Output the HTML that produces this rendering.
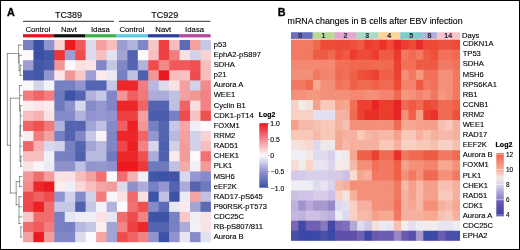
<!DOCTYPE html><html><head><meta charset="utf-8"><style>
html,body{margin:0;padding:0;background:#fff;}
body{width:520px;height:250px;overflow:hidden;position:relative;}
svg{position:absolute;left:0;top:0;will-change:transform;}
text{font-family:"Liberation Sans",sans-serif;fill:#000;stroke:#000;stroke-width:0.12px;}
</style></head><body>
<svg width="520" height="250" viewBox="0 0 520 250">
<rect x="0" y="0" width="520" height="250" fill="#fff"/>
<g>
<rect x="23.00" y="40.00" width="11.04" height="10.71" fill="#7780c2"/>
<rect x="33.44" y="40.00" width="11.04" height="10.71" fill="#3a50a5"/>
<rect x="43.88" y="40.00" width="11.04" height="10.71" fill="#9194ce"/>
<rect x="54.32" y="40.00" width="11.04" height="10.71" fill="#f8d2d3"/>
<rect x="64.76" y="40.00" width="11.04" height="10.71" fill="#ec1a1e"/>
<rect x="75.20" y="40.00" width="11.04" height="10.71" fill="#f0585a"/>
<rect x="85.64" y="40.00" width="11.04" height="10.71" fill="#dcdbee"/>
<rect x="96.08" y="40.00" width="11.04" height="10.71" fill="#f4a0a0"/>
<rect x="106.52" y="40.00" width="11.04" height="10.71" fill="#f7bebf"/>
<rect x="116.96" y="40.00" width="11.04" height="10.71" fill="#9c9ed3"/>
<rect x="127.40" y="40.00" width="11.04" height="10.71" fill="#b1b3dc"/>
<rect x="137.84" y="40.00" width="11.04" height="10.71" fill="#8086c6"/>
<rect x="148.28" y="40.00" width="11.04" height="10.71" fill="#f8c8c9"/>
<rect x="158.72" y="40.00" width="11.04" height="10.71" fill="#ee3f42"/>
<rect x="169.16" y="40.00" width="11.04" height="10.71" fill="#f7bebf"/>
<rect x="179.60" y="40.00" width="11.04" height="10.71" fill="#5d6bb5"/>
<rect x="190.04" y="40.00" width="11.04" height="10.71" fill="#f4a0a0"/>
<rect x="200.48" y="40.00" width="10.44" height="10.71" fill="#c6c7e5"/>
<rect x="23.00" y="50.11" width="11.04" height="10.71" fill="#fcfafc"/>
<rect x="33.44" y="50.11" width="11.04" height="10.71" fill="#3a50a5"/>
<rect x="43.88" y="50.11" width="11.04" height="10.71" fill="#4357a9"/>
<rect x="54.32" y="50.11" width="11.04" height="10.71" fill="#ed3336"/>
<rect x="64.76" y="50.11" width="11.04" height="10.71" fill="#9c9ed3"/>
<rect x="75.20" y="50.11" width="11.04" height="10.71" fill="#ef4c4e"/>
<rect x="85.64" y="50.11" width="11.04" height="10.71" fill="#dcdbee"/>
<rect x="96.08" y="50.11" width="11.04" height="10.71" fill="#f7bebf"/>
<rect x="106.52" y="50.11" width="11.04" height="10.71" fill="#e2e2f1"/>
<rect x="116.96" y="50.11" width="11.04" height="10.71" fill="#a2a4d5"/>
<rect x="127.40" y="50.11" width="11.04" height="10.71" fill="#5464b1"/>
<rect x="137.84" y="50.11" width="11.04" height="10.71" fill="#fcfafc"/>
<rect x="148.28" y="50.11" width="11.04" height="10.71" fill="#f7bebf"/>
<rect x="158.72" y="50.11" width="11.04" height="10.71" fill="#ee3f42"/>
<rect x="169.16" y="50.11" width="11.04" height="10.71" fill="#f27d7e"/>
<rect x="179.60" y="50.11" width="11.04" height="10.71" fill="#fae2e4"/>
<rect x="190.04" y="50.11" width="11.04" height="10.71" fill="#d1d1ea"/>
<rect x="200.48" y="50.11" width="10.44" height="10.71" fill="#f8d2d3"/>
<rect x="23.00" y="60.22" width="11.04" height="10.71" fill="#9c9ed3"/>
<rect x="33.44" y="60.22" width="11.04" height="10.71" fill="#4357a9"/>
<rect x="43.88" y="60.22" width="11.04" height="10.71" fill="#4b5ead"/>
<rect x="54.32" y="60.22" width="11.04" height="10.71" fill="#f39696"/>
<rect x="64.76" y="60.22" width="11.04" height="10.71" fill="#fcfafc"/>
<rect x="75.20" y="60.22" width="11.04" height="10.71" fill="#fae2e4"/>
<rect x="85.64" y="60.22" width="11.04" height="10.71" fill="#fae6e8"/>
<rect x="96.08" y="60.22" width="11.04" height="10.71" fill="#8086c6"/>
<rect x="106.52" y="60.22" width="11.04" height="10.71" fill="#c6c7e5"/>
<rect x="116.96" y="60.22" width="11.04" height="10.71" fill="#8086c6"/>
<rect x="127.40" y="60.22" width="11.04" height="10.71" fill="#5464b1"/>
<rect x="137.84" y="60.22" width="11.04" height="10.71" fill="#b1b3dc"/>
<rect x="148.28" y="60.22" width="11.04" height="10.71" fill="#ef4c4e"/>
<rect x="158.72" y="60.22" width="11.04" height="10.71" fill="#f28a8a"/>
<rect x="169.16" y="60.22" width="11.04" height="10.71" fill="#f0585a"/>
<rect x="179.60" y="60.22" width="11.04" height="10.71" fill="#f0585a"/>
<rect x="190.04" y="60.22" width="11.04" height="10.71" fill="#ef5153"/>
<rect x="200.48" y="60.22" width="10.44" height="10.71" fill="#f7bebf"/>
<rect x="23.00" y="70.33" width="11.04" height="10.71" fill="#4b5ead"/>
<rect x="33.44" y="70.33" width="11.04" height="10.71" fill="#4357a9"/>
<rect x="43.88" y="70.33" width="11.04" height="10.71" fill="#9194ce"/>
<rect x="54.32" y="70.33" width="11.04" height="10.71" fill="#fae6e8"/>
<rect x="64.76" y="70.33" width="11.04" height="10.71" fill="#f39696"/>
<rect x="75.20" y="70.33" width="11.04" height="10.71" fill="#f8c8c9"/>
<rect x="85.64" y="70.33" width="11.04" height="10.71" fill="#9c9ed3"/>
<rect x="96.08" y="70.33" width="11.04" height="10.71" fill="#fbeaec"/>
<rect x="106.52" y="70.33" width="11.04" height="10.71" fill="#ebeaf5"/>
<rect x="116.96" y="70.33" width="11.04" height="10.71" fill="#7780c2"/>
<rect x="127.40" y="70.33" width="11.04" height="10.71" fill="#c0c1e2"/>
<rect x="137.84" y="70.33" width="11.04" height="10.71" fill="#4f60af"/>
<rect x="148.28" y="70.33" width="11.04" height="10.71" fill="#f39696"/>
<rect x="158.72" y="70.33" width="11.04" height="10.71" fill="#ec1a1e"/>
<rect x="169.16" y="70.33" width="11.04" height="10.71" fill="#f7bebf"/>
<rect x="179.60" y="70.33" width="11.04" height="10.71" fill="#f7c2c3"/>
<rect x="190.04" y="70.33" width="11.04" height="10.71" fill="#ef4c4e"/>
<rect x="200.48" y="70.33" width="10.44" height="10.71" fill="#f7bebf"/>
<rect x="23.00" y="80.44" width="11.04" height="10.71" fill="#fcf6f8"/>
<rect x="33.44" y="80.44" width="11.04" height="10.71" fill="#d5d5eb"/>
<rect x="43.88" y="80.44" width="11.04" height="10.71" fill="#f3f2f8"/>
<rect x="54.32" y="80.44" width="11.04" height="10.71" fill="#7780c2"/>
<rect x="64.76" y="80.44" width="11.04" height="10.71" fill="#7780c2"/>
<rect x="75.20" y="80.44" width="11.04" height="10.71" fill="#9194ce"/>
<rect x="85.64" y="80.44" width="11.04" height="10.71" fill="#5464b1"/>
<rect x="96.08" y="80.44" width="11.04" height="10.71" fill="#5464b1"/>
<rect x="106.52" y="80.44" width="11.04" height="10.71" fill="#c6c7e5"/>
<rect x="116.96" y="80.44" width="11.04" height="10.71" fill="#ed262a"/>
<rect x="127.40" y="80.44" width="11.04" height="10.71" fill="#ed262a"/>
<rect x="137.84" y="80.44" width="11.04" height="10.71" fill="#f27d7e"/>
<rect x="148.28" y="80.44" width="11.04" height="10.71" fill="#b8b9df"/>
<rect x="158.72" y="80.44" width="11.04" height="10.71" fill="#dcdbee"/>
<rect x="169.16" y="80.44" width="11.04" height="10.71" fill="#fae2e4"/>
<rect x="179.60" y="80.44" width="11.04" height="10.71" fill="#f4a0a0"/>
<rect x="190.04" y="80.44" width="11.04" height="10.71" fill="#d1d1ea"/>
<rect x="200.48" y="80.44" width="10.44" height="10.71" fill="#f28a8a"/>
<rect x="23.00" y="90.55" width="11.04" height="10.71" fill="#f27d7e"/>
<rect x="33.44" y="90.55" width="11.04" height="10.71" fill="#f06466"/>
<rect x="43.88" y="90.55" width="11.04" height="10.71" fill="#f27d7e"/>
<rect x="54.32" y="90.55" width="11.04" height="10.71" fill="#6e79be"/>
<rect x="64.76" y="90.55" width="11.04" height="10.71" fill="#3d53a7"/>
<rect x="75.20" y="90.55" width="11.04" height="10.71" fill="#5464b1"/>
<rect x="85.64" y="90.55" width="11.04" height="10.71" fill="#b1b3dc"/>
<rect x="96.08" y="90.55" width="11.04" height="10.71" fill="#c6c7e5"/>
<rect x="106.52" y="90.55" width="11.04" height="10.71" fill="#8086c6"/>
<rect x="116.96" y="90.55" width="11.04" height="10.71" fill="#f39696"/>
<rect x="127.40" y="90.55" width="11.04" height="10.71" fill="#f05f61"/>
<rect x="137.84" y="90.55" width="11.04" height="10.71" fill="#f17879"/>
<rect x="148.28" y="90.55" width="11.04" height="10.71" fill="#abacd9"/>
<rect x="158.72" y="90.55" width="11.04" height="10.71" fill="#abacd9"/>
<rect x="169.16" y="90.55" width="11.04" height="10.71" fill="#c0c1e2"/>
<rect x="179.60" y="90.55" width="11.04" height="10.71" fill="#f4a0a0"/>
<rect x="190.04" y="90.55" width="11.04" height="10.71" fill="#f39696"/>
<rect x="200.48" y="90.55" width="10.44" height="10.71" fill="#f28283"/>
<rect x="23.00" y="100.66" width="11.04" height="10.71" fill="#fbeef0"/>
<rect x="33.44" y="100.66" width="11.04" height="10.71" fill="#fae6e8"/>
<rect x="43.88" y="100.66" width="11.04" height="10.71" fill="#fbeaec"/>
<rect x="54.32" y="100.66" width="11.04" height="10.71" fill="#6e79be"/>
<rect x="64.76" y="100.66" width="11.04" height="10.71" fill="#8e91cc"/>
<rect x="75.20" y="100.66" width="11.04" height="10.71" fill="#d8d7ec"/>
<rect x="85.64" y="100.66" width="11.04" height="10.71" fill="#858ac8"/>
<rect x="96.08" y="100.66" width="11.04" height="10.71" fill="#9598d0"/>
<rect x="106.52" y="100.66" width="11.04" height="10.71" fill="#8086c6"/>
<rect x="116.96" y="100.66" width="11.04" height="10.71" fill="#ed262a"/>
<rect x="127.40" y="100.66" width="11.04" height="10.71" fill="#ed262a"/>
<rect x="137.84" y="100.66" width="11.04" height="10.71" fill="#f06466"/>
<rect x="148.28" y="100.66" width="11.04" height="10.71" fill="#5464b1"/>
<rect x="158.72" y="100.66" width="11.04" height="10.71" fill="#5464b1"/>
<rect x="169.16" y="100.66" width="11.04" height="10.71" fill="#c0c1e2"/>
<rect x="179.60" y="100.66" width="11.04" height="10.71" fill="#f06466"/>
<rect x="190.04" y="100.66" width="11.04" height="10.71" fill="#f9dcdd"/>
<rect x="200.48" y="100.66" width="10.44" height="10.71" fill="#f28283"/>
<rect x="23.00" y="110.77" width="11.04" height="10.71" fill="#f7bebf"/>
<rect x="33.44" y="110.77" width="11.04" height="10.71" fill="#f6b2b3"/>
<rect x="43.88" y="110.77" width="11.04" height="10.71" fill="#fae2e4"/>
<rect x="54.32" y="110.77" width="11.04" height="10.71" fill="#858ac8"/>
<rect x="64.76" y="110.77" width="11.04" height="10.71" fill="#858ac8"/>
<rect x="75.20" y="110.77" width="11.04" height="10.71" fill="#b1b3dc"/>
<rect x="85.64" y="110.77" width="11.04" height="10.71" fill="#9194ce"/>
<rect x="96.08" y="110.77" width="11.04" height="10.71" fill="#9598d0"/>
<rect x="106.52" y="110.77" width="11.04" height="10.71" fill="#9194ce"/>
<rect x="116.96" y="110.77" width="11.04" height="10.71" fill="#ee3f42"/>
<rect x="127.40" y="110.77" width="11.04" height="10.71" fill="#ee3f42"/>
<rect x="137.84" y="110.77" width="11.04" height="10.71" fill="#f4a0a0"/>
<rect x="148.28" y="110.77" width="11.04" height="10.71" fill="#4b5ead"/>
<rect x="158.72" y="110.77" width="11.04" height="10.71" fill="#4b5ead"/>
<rect x="169.16" y="110.77" width="11.04" height="10.71" fill="#7780c2"/>
<rect x="179.60" y="110.77" width="11.04" height="10.71" fill="#ef4c4e"/>
<rect x="190.04" y="110.77" width="11.04" height="10.71" fill="#f7c2c3"/>
<rect x="200.48" y="110.77" width="10.44" height="10.71" fill="#ef5153"/>
<rect x="23.00" y="120.88" width="11.04" height="10.71" fill="#f06466"/>
<rect x="33.44" y="120.88" width="11.04" height="10.71" fill="#ef5153"/>
<rect x="43.88" y="120.88" width="11.04" height="10.71" fill="#f17879"/>
<rect x="54.32" y="120.88" width="11.04" height="10.71" fill="#b1b3dc"/>
<rect x="64.76" y="120.88" width="11.04" height="10.71" fill="#5464b1"/>
<rect x="75.20" y="120.88" width="11.04" height="10.71" fill="#5464b1"/>
<rect x="85.64" y="120.88" width="11.04" height="10.71" fill="#a2a4d5"/>
<rect x="96.08" y="120.88" width="11.04" height="10.71" fill="#c0c1e2"/>
<rect x="106.52" y="120.88" width="11.04" height="10.71" fill="#858ac8"/>
<rect x="116.96" y="120.88" width="11.04" height="10.71" fill="#f05f61"/>
<rect x="127.40" y="120.88" width="11.04" height="10.71" fill="#ec1f23"/>
<rect x="137.84" y="120.88" width="11.04" height="10.71" fill="#f39696"/>
<rect x="148.28" y="120.88" width="11.04" height="10.71" fill="#7780c2"/>
<rect x="158.72" y="120.88" width="11.04" height="10.71" fill="#5464b1"/>
<rect x="169.16" y="120.88" width="11.04" height="10.71" fill="#c6c7e5"/>
<rect x="179.60" y="120.88" width="11.04" height="10.71" fill="#f4a6a6"/>
<rect x="190.04" y="120.88" width="11.04" height="10.71" fill="#efeef6"/>
<rect x="200.48" y="120.88" width="10.44" height="10.71" fill="#fcfafc"/>
<rect x="23.00" y="130.99" width="11.04" height="10.71" fill="#fbeef0"/>
<rect x="33.44" y="130.99" width="11.04" height="10.71" fill="#f27d7e"/>
<rect x="43.88" y="130.99" width="11.04" height="10.71" fill="#f4a0a0"/>
<rect x="54.32" y="130.99" width="11.04" height="10.71" fill="#7780c2"/>
<rect x="64.76" y="130.99" width="11.04" height="10.71" fill="#5464b1"/>
<rect x="75.20" y="130.99" width="11.04" height="10.71" fill="#8086c6"/>
<rect x="85.64" y="130.99" width="11.04" height="10.71" fill="#c6c7e5"/>
<rect x="96.08" y="130.99" width="11.04" height="10.71" fill="#f6f4f9"/>
<rect x="106.52" y="130.99" width="11.04" height="10.71" fill="#8086c6"/>
<rect x="116.96" y="130.99" width="11.04" height="10.71" fill="#ed262a"/>
<rect x="127.40" y="130.99" width="11.04" height="10.71" fill="#ed262a"/>
<rect x="137.84" y="130.99" width="11.04" height="10.71" fill="#f06466"/>
<rect x="148.28" y="130.99" width="11.04" height="10.71" fill="#9598d0"/>
<rect x="158.72" y="130.99" width="11.04" height="10.71" fill="#5464b1"/>
<rect x="169.16" y="130.99" width="11.04" height="10.71" fill="#b8b9df"/>
<rect x="179.60" y="130.99" width="11.04" height="10.71" fill="#f4a0a0"/>
<rect x="190.04" y="130.99" width="11.04" height="10.71" fill="#d1d1ea"/>
<rect x="200.48" y="130.99" width="10.44" height="10.71" fill="#f8d2d3"/>
<rect x="23.00" y="141.10" width="11.04" height="10.71" fill="#f06466"/>
<rect x="33.44" y="141.10" width="11.04" height="10.71" fill="#f6b2b3"/>
<rect x="43.88" y="141.10" width="11.04" height="10.71" fill="#d8d7ec"/>
<rect x="54.32" y="141.10" width="11.04" height="10.71" fill="#d1d1ea"/>
<rect x="64.76" y="141.10" width="11.04" height="10.71" fill="#7780c2"/>
<rect x="75.20" y="141.10" width="11.04" height="10.71" fill="#5464b1"/>
<rect x="85.64" y="141.10" width="11.04" height="10.71" fill="#a2a4d5"/>
<rect x="96.08" y="141.10" width="11.04" height="10.71" fill="#b8b9df"/>
<rect x="106.52" y="141.10" width="11.04" height="10.71" fill="#8086c6"/>
<rect x="116.96" y="141.10" width="11.04" height="10.71" fill="#ef4749"/>
<rect x="127.40" y="141.10" width="11.04" height="10.71" fill="#ec1f23"/>
<rect x="137.84" y="141.10" width="11.04" height="10.71" fill="#f28283"/>
<rect x="148.28" y="141.10" width="11.04" height="10.71" fill="#d5d5eb"/>
<rect x="158.72" y="141.10" width="11.04" height="10.71" fill="#4f60af"/>
<rect x="169.16" y="141.10" width="11.04" height="10.71" fill="#d1d1ea"/>
<rect x="179.60" y="141.10" width="11.04" height="10.71" fill="#f49c9c"/>
<rect x="190.04" y="141.10" width="11.04" height="10.71" fill="#d1d1ea"/>
<rect x="200.48" y="141.10" width="10.44" height="10.71" fill="#f7bebf"/>
<rect x="23.00" y="151.21" width="11.04" height="10.71" fill="#f7bebf"/>
<rect x="33.44" y="151.21" width="11.04" height="10.71" fill="#f7bebf"/>
<rect x="43.88" y="151.21" width="11.04" height="10.71" fill="#f1f0f7"/>
<rect x="54.32" y="151.21" width="11.04" height="10.71" fill="#7780c2"/>
<rect x="64.76" y="151.21" width="11.04" height="10.71" fill="#7780c2"/>
<rect x="75.20" y="151.21" width="11.04" height="10.71" fill="#4f60af"/>
<rect x="85.64" y="151.21" width="11.04" height="10.71" fill="#b8b9df"/>
<rect x="96.08" y="151.21" width="11.04" height="10.71" fill="#b8b9df"/>
<rect x="106.52" y="151.21" width="11.04" height="10.71" fill="#6e79be"/>
<rect x="116.96" y="151.21" width="11.04" height="10.71" fill="#ed262a"/>
<rect x="127.40" y="151.21" width="11.04" height="10.71" fill="#ed262a"/>
<rect x="137.84" y="151.21" width="11.04" height="10.71" fill="#ef5153"/>
<rect x="148.28" y="151.21" width="11.04" height="10.71" fill="#abacd9"/>
<rect x="158.72" y="151.21" width="11.04" height="10.71" fill="#4f60af"/>
<rect x="169.16" y="151.21" width="11.04" height="10.71" fill="#fbeaec"/>
<rect x="179.60" y="151.21" width="11.04" height="10.71" fill="#f39a9a"/>
<rect x="190.04" y="151.21" width="11.04" height="10.71" fill="#fcfafc"/>
<rect x="200.48" y="151.21" width="10.44" height="10.71" fill="#f17172"/>
<rect x="23.00" y="161.32" width="11.04" height="10.71" fill="#fae2e4"/>
<rect x="33.44" y="161.32" width="11.04" height="10.71" fill="#fbf4f6"/>
<rect x="43.88" y="161.32" width="11.04" height="10.71" fill="#ebeaf5"/>
<rect x="54.32" y="161.32" width="11.04" height="10.71" fill="#8e91cc"/>
<rect x="64.76" y="161.32" width="11.04" height="10.71" fill="#8e91cc"/>
<rect x="75.20" y="161.32" width="11.04" height="10.71" fill="#c0c1e2"/>
<rect x="85.64" y="161.32" width="11.04" height="10.71" fill="#9194ce"/>
<rect x="96.08" y="161.32" width="11.04" height="10.71" fill="#9598d0"/>
<rect x="106.52" y="161.32" width="11.04" height="10.71" fill="#8e91cc"/>
<rect x="116.96" y="161.32" width="11.04" height="10.71" fill="#ec1a1e"/>
<rect x="127.40" y="161.32" width="11.04" height="10.71" fill="#ec1a1e"/>
<rect x="137.84" y="161.32" width="11.04" height="10.71" fill="#ee383b"/>
<rect x="148.28" y="161.32" width="11.04" height="10.71" fill="#6e79be"/>
<rect x="158.72" y="161.32" width="11.04" height="10.71" fill="#6e79be"/>
<rect x="169.16" y="161.32" width="11.04" height="10.71" fill="#c0c1e2"/>
<rect x="179.60" y="161.32" width="11.04" height="10.71" fill="#f5aaaa"/>
<rect x="190.04" y="161.32" width="11.04" height="10.71" fill="#f1f0f7"/>
<rect x="200.48" y="161.32" width="10.44" height="10.71" fill="#f39a9a"/>
<rect x="23.00" y="171.43" width="11.04" height="10.71" fill="#f39696"/>
<rect x="33.44" y="171.43" width="11.04" height="10.71" fill="#f16e70"/>
<rect x="43.88" y="171.43" width="11.04" height="10.71" fill="#f49c9c"/>
<rect x="54.32" y="171.43" width="11.04" height="10.71" fill="#fae2e4"/>
<rect x="64.76" y="171.43" width="11.04" height="10.71" fill="#fae2e4"/>
<rect x="75.20" y="171.43" width="11.04" height="10.71" fill="#f7bebf"/>
<rect x="85.64" y="171.43" width="11.04" height="10.71" fill="#f4a0a0"/>
<rect x="96.08" y="171.43" width="11.04" height="10.71" fill="#f17172"/>
<rect x="106.52" y="171.43" width="11.04" height="10.71" fill="#fcfafc"/>
<rect x="116.96" y="171.43" width="11.04" height="10.71" fill="#f16e70"/>
<rect x="127.40" y="171.43" width="11.04" height="10.71" fill="#f6b2b3"/>
<rect x="137.84" y="171.43" width="11.04" height="10.71" fill="#efeef6"/>
<rect x="148.28" y="171.43" width="11.04" height="10.71" fill="#4357a9"/>
<rect x="158.72" y="171.43" width="11.04" height="10.71" fill="#3d53a7"/>
<rect x="169.16" y="171.43" width="11.04" height="10.71" fill="#3f54a7"/>
<rect x="179.60" y="171.43" width="11.04" height="10.71" fill="#d8d7ec"/>
<rect x="190.04" y="171.43" width="11.04" height="10.71" fill="#9598d0"/>
<rect x="200.48" y="171.43" width="10.44" height="10.71" fill="#858ac8"/>
<rect x="23.00" y="181.54" width="11.04" height="10.71" fill="#f28a8a"/>
<rect x="33.44" y="181.54" width="11.04" height="10.71" fill="#ed262a"/>
<rect x="43.88" y="181.54" width="11.04" height="10.71" fill="#ec1a1e"/>
<rect x="54.32" y="181.54" width="11.04" height="10.71" fill="#fbecee"/>
<rect x="64.76" y="181.54" width="11.04" height="10.71" fill="#efeef6"/>
<rect x="75.20" y="181.54" width="11.04" height="10.71" fill="#f9d6d7"/>
<rect x="85.64" y="181.54" width="11.04" height="10.71" fill="#f7bebf"/>
<rect x="96.08" y="181.54" width="11.04" height="10.71" fill="#f4a4a4"/>
<rect x="106.52" y="181.54" width="11.04" height="10.71" fill="#f49c9c"/>
<rect x="116.96" y="181.54" width="11.04" height="10.71" fill="#dcdbee"/>
<rect x="127.40" y="181.54" width="11.04" height="10.71" fill="#8e91cc"/>
<rect x="137.84" y="181.54" width="11.04" height="10.71" fill="#abacd9"/>
<rect x="148.28" y="181.54" width="11.04" height="10.71" fill="#7780c2"/>
<rect x="158.72" y="181.54" width="11.04" height="10.71" fill="#9598d0"/>
<rect x="169.16" y="181.54" width="11.04" height="10.71" fill="#5464b1"/>
<rect x="179.60" y="181.54" width="11.04" height="10.71" fill="#abacd9"/>
<rect x="190.04" y="181.54" width="11.04" height="10.71" fill="#5464b1"/>
<rect x="200.48" y="181.54" width="10.44" height="10.71" fill="#6e79be"/>
<rect x="23.00" y="191.65" width="11.04" height="10.71" fill="#ef4c4e"/>
<rect x="33.44" y="191.65" width="11.04" height="10.71" fill="#f05f61"/>
<rect x="43.88" y="191.65" width="11.04" height="10.71" fill="#ef4c4e"/>
<rect x="54.32" y="191.65" width="11.04" height="10.71" fill="#9194ce"/>
<rect x="64.76" y="191.65" width="11.04" height="10.71" fill="#d1d1ea"/>
<rect x="75.20" y="191.65" width="11.04" height="10.71" fill="#858ac8"/>
<rect x="85.64" y="191.65" width="11.04" height="10.71" fill="#d1d1ea"/>
<rect x="96.08" y="191.65" width="11.04" height="10.71" fill="#f27d7e"/>
<rect x="106.52" y="191.65" width="11.04" height="10.71" fill="#f8f6fa"/>
<rect x="116.96" y="191.65" width="11.04" height="10.71" fill="#fae2e4"/>
<rect x="127.40" y="191.65" width="11.04" height="10.71" fill="#f0696b"/>
<rect x="137.84" y="191.65" width="11.04" height="10.71" fill="#fae0e1"/>
<rect x="148.28" y="191.65" width="11.04" height="10.71" fill="#3d53a7"/>
<rect x="158.72" y="191.65" width="11.04" height="10.71" fill="#c0c1e2"/>
<rect x="169.16" y="191.65" width="11.04" height="10.71" fill="#3d53a7"/>
<rect x="179.60" y="191.65" width="11.04" height="10.71" fill="#ebeaf5"/>
<rect x="190.04" y="191.65" width="11.04" height="10.71" fill="#f4a4a4"/>
<rect x="200.48" y="191.65" width="10.44" height="10.71" fill="#c0c1e2"/>
<rect x="23.00" y="201.76" width="11.04" height="10.71" fill="#ef4749"/>
<rect x="33.44" y="201.76" width="11.04" height="10.71" fill="#ec1f23"/>
<rect x="43.88" y="201.76" width="11.04" height="10.71" fill="#f16c6d"/>
<rect x="54.32" y="201.76" width="11.04" height="10.71" fill="#c6c7e5"/>
<rect x="64.76" y="201.76" width="11.04" height="10.71" fill="#c6c7e5"/>
<rect x="75.20" y="201.76" width="11.04" height="10.71" fill="#5162b0"/>
<rect x="85.64" y="201.76" width="11.04" height="10.71" fill="#c6c7e5"/>
<rect x="96.08" y="201.76" width="11.04" height="10.71" fill="#f3f2f8"/>
<rect x="106.52" y="201.76" width="11.04" height="10.71" fill="#b1b3dc"/>
<rect x="116.96" y="201.76" width="11.04" height="10.71" fill="#fcfafc"/>
<rect x="127.40" y="201.76" width="11.04" height="10.71" fill="#f17172"/>
<rect x="137.84" y="201.76" width="11.04" height="10.71" fill="#ef5153"/>
<rect x="148.28" y="201.76" width="11.04" height="10.71" fill="#858ac8"/>
<rect x="158.72" y="201.76" width="11.04" height="10.71" fill="#5d6bb5"/>
<rect x="169.16" y="201.76" width="11.04" height="10.71" fill="#e7e6f3"/>
<rect x="179.60" y="201.76" width="11.04" height="10.71" fill="#fbeaec"/>
<rect x="190.04" y="201.76" width="11.04" height="10.71" fill="#a2a4d5"/>
<rect x="200.48" y="201.76" width="10.44" height="10.71" fill="#5d6bb5"/>
<rect x="23.00" y="211.87" width="11.04" height="10.71" fill="#f8c8c9"/>
<rect x="33.44" y="211.87" width="11.04" height="10.71" fill="#f16c6d"/>
<rect x="43.88" y="211.87" width="11.04" height="10.71" fill="#f16c6d"/>
<rect x="54.32" y="211.87" width="11.04" height="10.71" fill="#7780c2"/>
<rect x="64.76" y="211.87" width="11.04" height="10.71" fill="#e7e6f3"/>
<rect x="75.20" y="211.87" width="11.04" height="10.71" fill="#efeef6"/>
<rect x="85.64" y="211.87" width="11.04" height="10.71" fill="#efeef6"/>
<rect x="96.08" y="211.87" width="11.04" height="10.71" fill="#fae2e4"/>
<rect x="106.52" y="211.87" width="11.04" height="10.71" fill="#e7e6f3"/>
<rect x="116.96" y="211.87" width="11.04" height="10.71" fill="#f16c6d"/>
<rect x="127.40" y="211.87" width="11.04" height="10.71" fill="#ef4c4e"/>
<rect x="137.84" y="211.87" width="11.04" height="10.71" fill="#f28283"/>
<rect x="148.28" y="211.87" width="11.04" height="10.71" fill="#3d53a7"/>
<rect x="158.72" y="211.87" width="11.04" height="10.71" fill="#3d53a7"/>
<rect x="169.16" y="211.87" width="11.04" height="10.71" fill="#7780c2"/>
<rect x="179.60" y="211.87" width="11.04" height="10.71" fill="#f8c8c9"/>
<rect x="190.04" y="211.87" width="11.04" height="10.71" fill="#efeef6"/>
<rect x="200.48" y="211.87" width="10.44" height="10.71" fill="#fae2e4"/>
<rect x="23.00" y="221.98" width="11.04" height="10.71" fill="#f16c6d"/>
<rect x="33.44" y="221.98" width="11.04" height="10.71" fill="#f05a5c"/>
<rect x="43.88" y="221.98" width="11.04" height="10.71" fill="#f27d7e"/>
<rect x="54.32" y="221.98" width="11.04" height="10.71" fill="#7780c2"/>
<rect x="64.76" y="221.98" width="11.04" height="10.71" fill="#7780c2"/>
<rect x="75.20" y="221.98" width="11.04" height="10.71" fill="#b8b9df"/>
<rect x="85.64" y="221.98" width="11.04" height="10.71" fill="#c6c7e5"/>
<rect x="96.08" y="221.98" width="11.04" height="10.71" fill="#fbeef0"/>
<rect x="106.52" y="221.98" width="11.04" height="10.71" fill="#a2a4d5"/>
<rect x="116.96" y="221.98" width="11.04" height="10.71" fill="#f28585"/>
<rect x="127.40" y="221.98" width="11.04" height="10.71" fill="#ee3f42"/>
<rect x="137.84" y="221.98" width="11.04" height="10.71" fill="#ed262a"/>
<rect x="148.28" y="221.98" width="11.04" height="10.71" fill="#5464b1"/>
<rect x="158.72" y="221.98" width="11.04" height="10.71" fill="#5464b1"/>
<rect x="169.16" y="221.98" width="11.04" height="10.71" fill="#7780c2"/>
<rect x="179.60" y="221.98" width="11.04" height="10.71" fill="#abacd9"/>
<rect x="190.04" y="221.98" width="11.04" height="10.71" fill="#f1f0f7"/>
<rect x="200.48" y="221.98" width="10.44" height="10.71" fill="#fae2e4"/>
<rect x="23.00" y="232.09" width="11.04" height="10.11" fill="#f4a0a0"/>
<rect x="33.44" y="232.09" width="11.04" height="10.11" fill="#ec1a1e"/>
<rect x="43.88" y="232.09" width="11.04" height="10.11" fill="#f49c9c"/>
<rect x="54.32" y="232.09" width="11.04" height="10.11" fill="#8086c6"/>
<rect x="64.76" y="232.09" width="11.04" height="10.11" fill="#8086c6"/>
<rect x="75.20" y="232.09" width="11.04" height="10.11" fill="#dcdbee"/>
<rect x="85.64" y="232.09" width="11.04" height="10.11" fill="#fcfafc"/>
<rect x="96.08" y="232.09" width="11.04" height="10.11" fill="#f4a4a4"/>
<rect x="106.52" y="232.09" width="11.04" height="10.11" fill="#a2a4d5"/>
<rect x="116.96" y="232.09" width="11.04" height="10.11" fill="#ef4c4e"/>
<rect x="127.40" y="232.09" width="11.04" height="10.11" fill="#f06466"/>
<rect x="137.84" y="232.09" width="11.04" height="10.11" fill="#f28283"/>
<rect x="148.28" y="232.09" width="11.04" height="10.11" fill="#9194ce"/>
<rect x="158.72" y="232.09" width="11.04" height="10.11" fill="#3d53a7"/>
<rect x="169.16" y="232.09" width="11.04" height="10.11" fill="#9194ce"/>
<rect x="179.60" y="232.09" width="11.04" height="10.11" fill="#e7e6f3"/>
<rect x="190.04" y="232.09" width="11.04" height="10.11" fill="#858ac8"/>
<rect x="200.48" y="232.09" width="10.44" height="10.11" fill="#e2e2f1"/>
</g>
<g>
<rect x="291.00" y="39.60" width="7.95" height="10.66" fill="#f27a62"/>
<rect x="298.35" y="39.60" width="7.95" height="10.66" fill="#f27a62"/>
<rect x="305.70" y="39.60" width="7.95" height="10.66" fill="#f27a62"/>
<rect x="313.04" y="39.60" width="7.95" height="10.66" fill="#f06a52"/>
<rect x="320.39" y="39.60" width="7.95" height="10.66" fill="#ee4a36"/>
<rect x="327.74" y="39.60" width="7.95" height="10.66" fill="#ee4a36"/>
<rect x="335.09" y="39.60" width="7.95" height="10.66" fill="#ee4a38"/>
<rect x="342.44" y="39.60" width="7.95" height="10.66" fill="#ee4a38"/>
<rect x="349.78" y="39.60" width="7.95" height="10.66" fill="#ee5040"/>
<rect x="357.13" y="39.60" width="7.95" height="10.66" fill="#ee5a44"/>
<rect x="364.48" y="39.60" width="7.95" height="10.66" fill="#ec3c2e"/>
<rect x="371.83" y="39.60" width="7.95" height="10.66" fill="#ee4434"/>
<rect x="379.18" y="39.60" width="7.95" height="10.66" fill="#ec3028"/>
<rect x="386.52" y="39.60" width="7.95" height="10.66" fill="#ee4a36"/>
<rect x="393.87" y="39.60" width="7.95" height="10.66" fill="#e82828"/>
<rect x="401.22" y="39.60" width="7.95" height="10.66" fill="#ec3c2e"/>
<rect x="408.57" y="39.60" width="7.95" height="10.66" fill="#ee4a36"/>
<rect x="415.92" y="39.60" width="7.95" height="10.66" fill="#e82a2a"/>
<rect x="423.26" y="39.60" width="7.95" height="10.66" fill="#ee4a36"/>
<rect x="430.61" y="39.60" width="7.95" height="10.66" fill="#ee4a36"/>
<rect x="437.96" y="39.60" width="7.95" height="10.66" fill="#ee5040"/>
<rect x="445.31" y="39.60" width="7.95" height="10.66" fill="#ee5040"/>
<rect x="452.66" y="39.60" width="7.35" height="10.66" fill="#ee4a38"/>
<rect x="291.00" y="49.66" width="7.95" height="10.66" fill="#f27a62"/>
<rect x="298.35" y="49.66" width="7.95" height="10.66" fill="#f27a62"/>
<rect x="305.70" y="49.66" width="7.95" height="10.66" fill="#f27a62"/>
<rect x="313.04" y="49.66" width="7.95" height="10.66" fill="#ee5c44"/>
<rect x="320.39" y="49.66" width="7.95" height="10.66" fill="#ee5c44"/>
<rect x="327.74" y="49.66" width="7.95" height="10.66" fill="#f06a52"/>
<rect x="335.09" y="49.66" width="7.95" height="10.66" fill="#ee4e3a"/>
<rect x="342.44" y="49.66" width="7.95" height="10.66" fill="#f05a44"/>
<rect x="349.78" y="49.66" width="7.95" height="10.66" fill="#ec3c2e"/>
<rect x="357.13" y="49.66" width="7.95" height="10.66" fill="#ee4a38"/>
<rect x="364.48" y="49.66" width="7.95" height="10.66" fill="#ee4a38"/>
<rect x="371.83" y="49.66" width="7.95" height="10.66" fill="#ec3c2e"/>
<rect x="379.18" y="49.66" width="7.95" height="10.66" fill="#ee5a44"/>
<rect x="386.52" y="49.66" width="7.95" height="10.66" fill="#ee5a44"/>
<rect x="393.87" y="49.66" width="7.95" height="10.66" fill="#ea3a2e"/>
<rect x="401.22" y="49.66" width="7.95" height="10.66" fill="#f27a62"/>
<rect x="408.57" y="49.66" width="7.95" height="10.66" fill="#f06a52"/>
<rect x="415.92" y="49.66" width="7.95" height="10.66" fill="#f27a62"/>
<rect x="423.26" y="49.66" width="7.95" height="10.66" fill="#ee5a44"/>
<rect x="430.61" y="49.66" width="7.95" height="10.66" fill="#ee5038"/>
<rect x="437.96" y="49.66" width="7.95" height="10.66" fill="#f27058"/>
<rect x="445.31" y="49.66" width="7.95" height="10.66" fill="#f27058"/>
<rect x="452.66" y="49.66" width="7.35" height="10.66" fill="#f06a52"/>
<rect x="291.00" y="59.72" width="7.95" height="10.66" fill="#f48870"/>
<rect x="298.35" y="59.72" width="7.95" height="10.66" fill="#f48870"/>
<rect x="305.70" y="59.72" width="7.95" height="10.66" fill="#f48870"/>
<rect x="313.04" y="59.72" width="7.95" height="10.66" fill="#f48870"/>
<rect x="320.39" y="59.72" width="7.95" height="10.66" fill="#f48870"/>
<rect x="327.74" y="59.72" width="7.95" height="10.66" fill="#f48870"/>
<rect x="335.09" y="59.72" width="7.95" height="10.66" fill="#f27058"/>
<rect x="342.44" y="59.72" width="7.95" height="10.66" fill="#f27058"/>
<rect x="349.78" y="59.72" width="7.95" height="10.66" fill="#f06850"/>
<rect x="357.13" y="59.72" width="7.95" height="10.66" fill="#f06850"/>
<rect x="364.48" y="59.72" width="7.95" height="10.66" fill="#f06850"/>
<rect x="371.83" y="59.72" width="7.95" height="10.66" fill="#f06a52"/>
<rect x="379.18" y="59.72" width="7.95" height="10.66" fill="#f06a52"/>
<rect x="386.52" y="59.72" width="7.95" height="10.66" fill="#f06a52"/>
<rect x="393.87" y="59.72" width="7.95" height="10.66" fill="#ec4030"/>
<rect x="401.22" y="59.72" width="7.95" height="10.66" fill="#f27058"/>
<rect x="408.57" y="59.72" width="7.95" height="10.66" fill="#f27058"/>
<rect x="415.92" y="59.72" width="7.95" height="10.66" fill="#ee5a44"/>
<rect x="423.26" y="59.72" width="7.95" height="10.66" fill="#ee5a44"/>
<rect x="430.61" y="59.72" width="7.95" height="10.66" fill="#ee5a44"/>
<rect x="437.96" y="59.72" width="7.95" height="10.66" fill="#f27a62"/>
<rect x="445.31" y="59.72" width="7.95" height="10.66" fill="#f27a62"/>
<rect x="452.66" y="59.72" width="7.35" height="10.66" fill="#f27058"/>
<rect x="291.00" y="69.78" width="7.95" height="10.66" fill="#f4907a"/>
<rect x="298.35" y="69.78" width="7.95" height="10.66" fill="#f4907a"/>
<rect x="305.70" y="69.78" width="7.95" height="10.66" fill="#f4907a"/>
<rect x="313.04" y="69.78" width="7.95" height="10.66" fill="#f27862"/>
<rect x="320.39" y="69.78" width="7.95" height="10.66" fill="#f4846e"/>
<rect x="327.74" y="69.78" width="7.95" height="10.66" fill="#f4846e"/>
<rect x="335.09" y="69.78" width="7.95" height="10.66" fill="#f06a52"/>
<rect x="342.44" y="69.78" width="7.95" height="10.66" fill="#f27058"/>
<rect x="349.78" y="69.78" width="7.95" height="10.66" fill="#f06048"/>
<rect x="357.13" y="69.78" width="7.95" height="10.66" fill="#ee5038"/>
<rect x="364.48" y="69.78" width="7.95" height="10.66" fill="#ee4a36"/>
<rect x="371.83" y="69.78" width="7.95" height="10.66" fill="#ec4030"/>
<rect x="379.18" y="69.78" width="7.95" height="10.66" fill="#f06048"/>
<rect x="386.52" y="69.78" width="7.95" height="10.66" fill="#f06048"/>
<rect x="393.87" y="69.78" width="7.95" height="10.66" fill="#ec4030"/>
<rect x="401.22" y="69.78" width="7.95" height="10.66" fill="#f4907a"/>
<rect x="408.57" y="69.78" width="7.95" height="10.66" fill="#f27862"/>
<rect x="415.92" y="69.78" width="7.95" height="10.66" fill="#f5987f"/>
<rect x="423.26" y="69.78" width="7.95" height="10.66" fill="#f27058"/>
<rect x="430.61" y="69.78" width="7.95" height="10.66" fill="#f27058"/>
<rect x="437.96" y="69.78" width="7.95" height="10.66" fill="#f4907a"/>
<rect x="445.31" y="69.78" width="7.95" height="10.66" fill="#f4907a"/>
<rect x="452.66" y="69.78" width="7.35" height="10.66" fill="#f27862"/>
<rect x="291.00" y="79.84" width="7.95" height="10.66" fill="#f27862"/>
<rect x="298.35" y="79.84" width="7.95" height="10.66" fill="#f27862"/>
<rect x="305.70" y="79.84" width="7.95" height="10.66" fill="#f06a52"/>
<rect x="313.04" y="79.84" width="7.95" height="10.66" fill="#f6a890"/>
<rect x="320.39" y="79.84" width="7.95" height="10.66" fill="#f4907a"/>
<rect x="327.74" y="79.84" width="7.95" height="10.66" fill="#f4907a"/>
<rect x="335.09" y="79.84" width="7.95" height="10.66" fill="#f27058"/>
<rect x="342.44" y="79.84" width="7.95" height="10.66" fill="#f27862"/>
<rect x="349.78" y="79.84" width="7.95" height="10.66" fill="#f06048"/>
<rect x="357.13" y="79.84" width="7.95" height="10.66" fill="#f06a52"/>
<rect x="364.48" y="79.84" width="7.95" height="10.66" fill="#f06a52"/>
<rect x="371.83" y="79.84" width="7.95" height="10.66" fill="#f06048"/>
<rect x="379.18" y="79.84" width="7.95" height="10.66" fill="#f06a52"/>
<rect x="386.52" y="79.84" width="7.95" height="10.66" fill="#f06a52"/>
<rect x="393.87" y="79.84" width="7.95" height="10.66" fill="#ec4a34"/>
<rect x="401.22" y="79.84" width="7.95" height="10.66" fill="#f4846e"/>
<rect x="408.57" y="79.84" width="7.95" height="10.66" fill="#f4846e"/>
<rect x="415.92" y="79.84" width="7.95" height="10.66" fill="#ee5a44"/>
<rect x="423.26" y="79.84" width="7.95" height="10.66" fill="#f27862"/>
<rect x="430.61" y="79.84" width="7.95" height="10.66" fill="#f27058"/>
<rect x="437.96" y="79.84" width="7.95" height="10.66" fill="#f4907a"/>
<rect x="445.31" y="79.84" width="7.95" height="10.66" fill="#f4907a"/>
<rect x="452.66" y="79.84" width="7.35" height="10.66" fill="#f27862"/>
<rect x="291.00" y="89.90" width="7.95" height="10.66" fill="#f4907a"/>
<rect x="298.35" y="89.90" width="7.95" height="10.66" fill="#f4907a"/>
<rect x="305.70" y="89.90" width="7.95" height="10.66" fill="#f5987f"/>
<rect x="313.04" y="89.90" width="7.95" height="10.66" fill="#f5987f"/>
<rect x="320.39" y="89.90" width="7.95" height="10.66" fill="#f4907a"/>
<rect x="327.74" y="89.90" width="7.95" height="10.66" fill="#f4907a"/>
<rect x="335.09" y="89.90" width="7.95" height="10.66" fill="#f4907a"/>
<rect x="342.44" y="89.90" width="7.95" height="10.66" fill="#f4907a"/>
<rect x="349.78" y="89.90" width="7.95" height="10.66" fill="#f48870"/>
<rect x="357.13" y="89.90" width="7.95" height="10.66" fill="#f48870"/>
<rect x="364.48" y="89.90" width="7.95" height="10.66" fill="#f4907a"/>
<rect x="371.83" y="89.90" width="7.95" height="10.66" fill="#f4907a"/>
<rect x="379.18" y="89.90" width="7.95" height="10.66" fill="#f4846e"/>
<rect x="386.52" y="89.90" width="7.95" height="10.66" fill="#f4846e"/>
<rect x="393.87" y="89.90" width="7.95" height="10.66" fill="#f06a52"/>
<rect x="401.22" y="89.90" width="7.95" height="10.66" fill="#f5987f"/>
<rect x="408.57" y="89.90" width="7.95" height="10.66" fill="#f4907a"/>
<rect x="415.92" y="89.90" width="7.95" height="10.66" fill="#f4846e"/>
<rect x="423.26" y="89.90" width="7.95" height="10.66" fill="#f4907a"/>
<rect x="430.61" y="89.90" width="7.95" height="10.66" fill="#f27862"/>
<rect x="437.96" y="89.90" width="7.95" height="10.66" fill="#f5987f"/>
<rect x="445.31" y="89.90" width="7.95" height="10.66" fill="#f4907a"/>
<rect x="452.66" y="89.90" width="7.35" height="10.66" fill="#f27862"/>
<rect x="291.00" y="99.96" width="7.95" height="10.66" fill="#f8d0c4"/>
<rect x="298.35" y="99.96" width="7.95" height="10.66" fill="#f0ece8"/>
<rect x="305.70" y="99.96" width="7.95" height="10.66" fill="#f4e0d8"/>
<rect x="313.04" y="99.96" width="7.95" height="10.66" fill="#f4a08a"/>
<rect x="320.39" y="99.96" width="7.95" height="10.66" fill="#f8c8b8"/>
<rect x="327.74" y="99.96" width="7.95" height="10.66" fill="#f8c8b8"/>
<rect x="335.09" y="99.96" width="7.95" height="10.66" fill="#f4a08a"/>
<rect x="342.44" y="99.96" width="7.95" height="10.66" fill="#f4a890"/>
<rect x="349.78" y="99.96" width="7.95" height="10.66" fill="#f27058"/>
<rect x="357.13" y="99.96" width="7.95" height="10.66" fill="#ec4030"/>
<rect x="364.48" y="99.96" width="7.95" height="10.66" fill="#ec4030"/>
<rect x="371.83" y="99.96" width="7.95" height="10.66" fill="#e82424"/>
<rect x="379.18" y="99.96" width="7.95" height="10.66" fill="#ec3c2e"/>
<rect x="386.52" y="99.96" width="7.95" height="10.66" fill="#ec3c2e"/>
<rect x="393.87" y="99.96" width="7.95" height="10.66" fill="#e82424"/>
<rect x="401.22" y="99.96" width="7.95" height="10.66" fill="#f06a52"/>
<rect x="408.57" y="99.96" width="7.95" height="10.66" fill="#ee5a44"/>
<rect x="415.92" y="99.96" width="7.95" height="10.66" fill="#f06a52"/>
<rect x="423.26" y="99.96" width="7.95" height="10.66" fill="#ec4a34"/>
<rect x="430.61" y="99.96" width="7.95" height="10.66" fill="#ee5040"/>
<rect x="437.96" y="99.96" width="7.95" height="10.66" fill="#f06a52"/>
<rect x="445.31" y="99.96" width="7.95" height="10.66" fill="#f06a52"/>
<rect x="452.66" y="99.96" width="7.35" height="10.66" fill="#f06048"/>
<rect x="291.00" y="110.02" width="7.95" height="10.66" fill="#f8d0c4"/>
<rect x="298.35" y="110.02" width="7.95" height="10.66" fill="#f8d0c4"/>
<rect x="305.70" y="110.02" width="7.95" height="10.66" fill="#f8d0c4"/>
<rect x="313.04" y="110.02" width="7.95" height="10.66" fill="#e0e0f0"/>
<rect x="320.39" y="110.02" width="7.95" height="10.66" fill="#e0e0f0"/>
<rect x="327.74" y="110.02" width="7.95" height="10.66" fill="#e0e0f0"/>
<rect x="335.09" y="110.02" width="7.95" height="10.66" fill="#f6b4a0"/>
<rect x="342.44" y="110.02" width="7.95" height="10.66" fill="#f6b0a0"/>
<rect x="349.78" y="110.02" width="7.95" height="10.66" fill="#f06a52"/>
<rect x="357.13" y="110.02" width="7.95" height="10.66" fill="#ec4030"/>
<rect x="364.48" y="110.02" width="7.95" height="10.66" fill="#e83028"/>
<rect x="371.83" y="110.02" width="7.95" height="10.66" fill="#e83028"/>
<rect x="379.18" y="110.02" width="7.95" height="10.66" fill="#ec3c2e"/>
<rect x="386.52" y="110.02" width="7.95" height="10.66" fill="#ec3c2e"/>
<rect x="393.87" y="110.02" width="7.95" height="10.66" fill="#e82424"/>
<rect x="401.22" y="110.02" width="7.95" height="10.66" fill="#f4907a"/>
<rect x="408.57" y="110.02" width="7.95" height="10.66" fill="#f06048"/>
<rect x="415.92" y="110.02" width="7.95" height="10.66" fill="#f4a08a"/>
<rect x="423.26" y="110.02" width="7.95" height="10.66" fill="#ec3c2e"/>
<rect x="430.61" y="110.02" width="7.95" height="10.66" fill="#ea3028"/>
<rect x="437.96" y="110.02" width="7.95" height="10.66" fill="#f06a52"/>
<rect x="445.31" y="110.02" width="7.95" height="10.66" fill="#f06a52"/>
<rect x="452.66" y="110.02" width="7.35" height="10.66" fill="#ee5038"/>
<rect x="291.00" y="120.08" width="7.95" height="10.66" fill="#f4a08a"/>
<rect x="298.35" y="120.08" width="7.95" height="10.66" fill="#f6b8a8"/>
<rect x="305.70" y="120.08" width="7.95" height="10.66" fill="#f6b8a8"/>
<rect x="313.04" y="120.08" width="7.95" height="10.66" fill="#f6c0b0"/>
<rect x="320.39" y="120.08" width="7.95" height="10.66" fill="#f8c8b8"/>
<rect x="327.74" y="120.08" width="7.95" height="10.66" fill="#f8c8b8"/>
<rect x="335.09" y="120.08" width="7.95" height="10.66" fill="#f6b4a0"/>
<rect x="342.44" y="120.08" width="7.95" height="10.66" fill="#f6c0b0"/>
<rect x="349.78" y="120.08" width="7.95" height="10.66" fill="#f4907a"/>
<rect x="357.13" y="120.08" width="7.95" height="10.66" fill="#f4907a"/>
<rect x="364.48" y="120.08" width="7.95" height="10.66" fill="#f4907a"/>
<rect x="371.83" y="120.08" width="7.95" height="10.66" fill="#f4907a"/>
<rect x="379.18" y="120.08" width="7.95" height="10.66" fill="#f4907a"/>
<rect x="386.52" y="120.08" width="7.95" height="10.66" fill="#f4907a"/>
<rect x="393.87" y="120.08" width="7.95" height="10.66" fill="#f06a52"/>
<rect x="401.22" y="120.08" width="7.95" height="10.66" fill="#f6a890"/>
<rect x="408.57" y="120.08" width="7.95" height="10.66" fill="#f6a890"/>
<rect x="415.92" y="120.08" width="7.95" height="10.66" fill="#f4a08a"/>
<rect x="423.26" y="120.08" width="7.95" height="10.66" fill="#f4a08a"/>
<rect x="430.61" y="120.08" width="7.95" height="10.66" fill="#f4a08a"/>
<rect x="437.96" y="120.08" width="7.95" height="10.66" fill="#f8c0b0"/>
<rect x="445.31" y="120.08" width="7.95" height="10.66" fill="#f8c8b8"/>
<rect x="452.66" y="120.08" width="7.35" height="10.66" fill="#f6b0a0"/>
<rect x="291.00" y="130.14" width="7.95" height="10.66" fill="#f8c8b8"/>
<rect x="298.35" y="130.14" width="7.95" height="10.66" fill="#f8c8b8"/>
<rect x="305.70" y="130.14" width="7.95" height="10.66" fill="#f8c8b8"/>
<rect x="313.04" y="130.14" width="7.95" height="10.66" fill="#f6b8a8"/>
<rect x="320.39" y="130.14" width="7.95" height="10.66" fill="#f8c8b8"/>
<rect x="327.74" y="130.14" width="7.95" height="10.66" fill="#f8c8b8"/>
<rect x="335.09" y="130.14" width="7.95" height="10.66" fill="#f4a890"/>
<rect x="342.44" y="130.14" width="7.95" height="10.66" fill="#f6b0a0"/>
<rect x="349.78" y="130.14" width="7.95" height="10.66" fill="#f6b0a0"/>
<rect x="357.13" y="130.14" width="7.95" height="10.66" fill="#f8c8b8"/>
<rect x="364.48" y="130.14" width="7.95" height="10.66" fill="#f6b8a8"/>
<rect x="371.83" y="130.14" width="7.95" height="10.66" fill="#f6b0a0"/>
<rect x="379.18" y="130.14" width="7.95" height="10.66" fill="#f6b8a8"/>
<rect x="386.52" y="130.14" width="7.95" height="10.66" fill="#f6b8a8"/>
<rect x="393.87" y="130.14" width="7.95" height="10.66" fill="#f4a08a"/>
<rect x="401.22" y="130.14" width="7.95" height="10.66" fill="#f8c8b8"/>
<rect x="408.57" y="130.14" width="7.95" height="10.66" fill="#f8c8b8"/>
<rect x="415.92" y="130.14" width="7.95" height="10.66" fill="#f6b0a0"/>
<rect x="423.26" y="130.14" width="7.95" height="10.66" fill="#f8c0b0"/>
<rect x="430.61" y="130.14" width="7.95" height="10.66" fill="#f6b0a0"/>
<rect x="437.96" y="130.14" width="7.95" height="10.66" fill="#f6b8a8"/>
<rect x="445.31" y="130.14" width="7.95" height="10.66" fill="#f6b8a8"/>
<rect x="452.66" y="130.14" width="7.35" height="10.66" fill="#f6b0a0"/>
<rect x="291.00" y="140.20" width="7.95" height="10.66" fill="#f4e4e0"/>
<rect x="298.35" y="140.20" width="7.95" height="10.66" fill="#f4e0d8"/>
<rect x="305.70" y="140.20" width="7.95" height="10.66" fill="#f6d8d0"/>
<rect x="313.04" y="140.20" width="7.95" height="10.66" fill="#dcd8f0"/>
<rect x="320.39" y="140.20" width="7.95" height="10.66" fill="#f0e8e8"/>
<rect x="327.74" y="140.20" width="7.95" height="10.66" fill="#f0e8e8"/>
<rect x="335.09" y="140.20" width="7.95" height="10.66" fill="#f4a890"/>
<rect x="342.44" y="140.20" width="7.95" height="10.66" fill="#f6b8a8"/>
<rect x="349.78" y="140.20" width="7.95" height="10.66" fill="#f6b0a0"/>
<rect x="357.13" y="140.20" width="7.95" height="10.66" fill="#f6b0a0"/>
<rect x="364.48" y="140.20" width="7.95" height="10.66" fill="#f6b0a0"/>
<rect x="371.83" y="140.20" width="7.95" height="10.66" fill="#f6b0a0"/>
<rect x="379.18" y="140.20" width="7.95" height="10.66" fill="#f8c8b8"/>
<rect x="386.52" y="140.20" width="7.95" height="10.66" fill="#f8c8b8"/>
<rect x="393.87" y="140.20" width="7.95" height="10.66" fill="#f6b0a0"/>
<rect x="401.22" y="140.20" width="7.95" height="10.66" fill="#f8d0c4"/>
<rect x="408.57" y="140.20" width="7.95" height="10.66" fill="#f8d0c4"/>
<rect x="415.92" y="140.20" width="7.95" height="10.66" fill="#f8c8b8"/>
<rect x="423.26" y="140.20" width="7.95" height="10.66" fill="#f8c8b8"/>
<rect x="430.61" y="140.20" width="7.95" height="10.66" fill="#f6c0b0"/>
<rect x="437.96" y="140.20" width="7.95" height="10.66" fill="#f8d0c4"/>
<rect x="445.31" y="140.20" width="7.95" height="10.66" fill="#f8d0c4"/>
<rect x="452.66" y="140.20" width="7.35" height="10.66" fill="#f6c0b0"/>
<rect x="291.00" y="150.26" width="7.95" height="10.66" fill="#f0eef2"/>
<rect x="298.35" y="150.26" width="7.95" height="10.66" fill="#eeeef6"/>
<rect x="305.70" y="150.26" width="7.95" height="10.66" fill="#f4e8e8"/>
<rect x="313.04" y="150.26" width="7.95" height="10.66" fill="#e0dcf0"/>
<rect x="320.39" y="150.26" width="7.95" height="10.66" fill="#e0dcf0"/>
<rect x="327.74" y="150.26" width="7.95" height="10.66" fill="#d8d0ec"/>
<rect x="335.09" y="150.26" width="7.95" height="10.66" fill="#eeeef4"/>
<rect x="342.44" y="150.26" width="7.95" height="10.66" fill="#f2e8e8"/>
<rect x="349.78" y="150.26" width="7.95" height="10.66" fill="#f4a890"/>
<rect x="357.13" y="150.26" width="7.95" height="10.66" fill="#f06048"/>
<rect x="364.48" y="150.26" width="7.95" height="10.66" fill="#f06048"/>
<rect x="371.83" y="150.26" width="7.95" height="10.66" fill="#ec4030"/>
<rect x="379.18" y="150.26" width="7.95" height="10.66" fill="#f06a52"/>
<rect x="386.52" y="150.26" width="7.95" height="10.66" fill="#f06a52"/>
<rect x="393.87" y="150.26" width="7.95" height="10.66" fill="#ea3028"/>
<rect x="401.22" y="150.26" width="7.95" height="10.66" fill="#f27862"/>
<rect x="408.57" y="150.26" width="7.95" height="10.66" fill="#f06a52"/>
<rect x="415.92" y="150.26" width="7.95" height="10.66" fill="#f06a52"/>
<rect x="423.26" y="150.26" width="7.95" height="10.66" fill="#ee5a44"/>
<rect x="430.61" y="150.26" width="7.95" height="10.66" fill="#ee5a44"/>
<rect x="437.96" y="150.26" width="7.95" height="10.66" fill="#f27862"/>
<rect x="445.31" y="150.26" width="7.95" height="10.66" fill="#f27862"/>
<rect x="452.66" y="150.26" width="7.35" height="10.66" fill="#f06a52"/>
<rect x="291.00" y="160.32" width="7.95" height="10.66" fill="#f8dcd0"/>
<rect x="298.35" y="160.32" width="7.95" height="10.66" fill="#f4ecea"/>
<rect x="305.70" y="160.32" width="7.95" height="10.66" fill="#f8d4c8"/>
<rect x="313.04" y="160.32" width="7.95" height="10.66" fill="#e8e4f2"/>
<rect x="320.39" y="160.32" width="7.95" height="10.66" fill="#e8e4f2"/>
<rect x="327.74" y="160.32" width="7.95" height="10.66" fill="#dcd4ec"/>
<rect x="335.09" y="160.32" width="7.95" height="10.66" fill="#f4ecea"/>
<rect x="342.44" y="160.32" width="7.95" height="10.66" fill="#f4e8e4"/>
<rect x="349.78" y="160.32" width="7.95" height="10.66" fill="#f6b8a8"/>
<rect x="357.13" y="160.32" width="7.95" height="10.66" fill="#f4907a"/>
<rect x="364.48" y="160.32" width="7.95" height="10.66" fill="#f4907a"/>
<rect x="371.83" y="160.32" width="7.95" height="10.66" fill="#f27058"/>
<rect x="379.18" y="160.32" width="7.95" height="10.66" fill="#f27862"/>
<rect x="386.52" y="160.32" width="7.95" height="10.66" fill="#f27862"/>
<rect x="393.87" y="160.32" width="7.95" height="10.66" fill="#f06048"/>
<rect x="401.22" y="160.32" width="7.95" height="10.66" fill="#f4a08a"/>
<rect x="408.57" y="160.32" width="7.95" height="10.66" fill="#f4907a"/>
<rect x="415.92" y="160.32" width="7.95" height="10.66" fill="#f4907a"/>
<rect x="423.26" y="160.32" width="7.95" height="10.66" fill="#f4846e"/>
<rect x="430.61" y="160.32" width="7.95" height="10.66" fill="#f4846e"/>
<rect x="437.96" y="160.32" width="7.95" height="10.66" fill="#f6a890"/>
<rect x="445.31" y="160.32" width="7.95" height="10.66" fill="#f6a890"/>
<rect x="452.66" y="160.32" width="7.35" height="10.66" fill="#f4907a"/>
<rect x="291.00" y="170.38" width="7.95" height="10.66" fill="#d4cae8"/>
<rect x="298.35" y="170.38" width="7.95" height="10.66" fill="#d4cae8"/>
<rect x="305.70" y="170.38" width="7.95" height="10.66" fill="#d8d0ea"/>
<rect x="313.04" y="170.38" width="7.95" height="10.66" fill="#d8d0ea"/>
<rect x="320.39" y="170.38" width="7.95" height="10.66" fill="#d8d0ea"/>
<rect x="327.74" y="170.38" width="7.95" height="10.66" fill="#d4cae8"/>
<rect x="335.09" y="170.38" width="7.95" height="10.66" fill="#d4cae8"/>
<rect x="342.44" y="170.38" width="7.95" height="10.66" fill="#ccc0e4"/>
<rect x="349.78" y="170.38" width="7.95" height="10.66" fill="#f8dcd0"/>
<rect x="357.13" y="170.38" width="7.95" height="10.66" fill="#f4a890"/>
<rect x="364.48" y="170.38" width="7.95" height="10.66" fill="#f6b0a0"/>
<rect x="371.83" y="170.38" width="7.95" height="10.66" fill="#f27862"/>
<rect x="379.18" y="170.38" width="7.95" height="10.66" fill="#f27862"/>
<rect x="386.52" y="170.38" width="7.95" height="10.66" fill="#f27862"/>
<rect x="393.87" y="170.38" width="7.95" height="10.66" fill="#f06048"/>
<rect x="401.22" y="170.38" width="7.95" height="10.66" fill="#f4907a"/>
<rect x="408.57" y="170.38" width="7.95" height="10.66" fill="#f27862"/>
<rect x="415.92" y="170.38" width="7.95" height="10.66" fill="#f4907a"/>
<rect x="423.26" y="170.38" width="7.95" height="10.66" fill="#f06a52"/>
<rect x="430.61" y="170.38" width="7.95" height="10.66" fill="#f06a52"/>
<rect x="437.96" y="170.38" width="7.95" height="10.66" fill="#f4907a"/>
<rect x="445.31" y="170.38" width="7.95" height="10.66" fill="#f4907a"/>
<rect x="452.66" y="170.38" width="7.35" height="10.66" fill="#f27862"/>
<rect x="291.00" y="180.44" width="7.95" height="10.66" fill="#f0f0f4"/>
<rect x="298.35" y="180.44" width="7.95" height="10.66" fill="#f0f0f4"/>
<rect x="305.70" y="180.44" width="7.95" height="10.66" fill="#ececf4"/>
<rect x="313.04" y="180.44" width="7.95" height="10.66" fill="#e0dcf0"/>
<rect x="320.39" y="180.44" width="7.95" height="10.66" fill="#e8e4f2"/>
<rect x="327.74" y="180.44" width="7.95" height="10.66" fill="#dcd4ec"/>
<rect x="335.09" y="180.44" width="7.95" height="10.66" fill="#f6b8a8"/>
<rect x="342.44" y="180.44" width="7.95" height="10.66" fill="#f6b0a0"/>
<rect x="349.78" y="180.44" width="7.95" height="10.66" fill="#f4907a"/>
<rect x="357.13" y="180.44" width="7.95" height="10.66" fill="#f4907a"/>
<rect x="364.48" y="180.44" width="7.95" height="10.66" fill="#f4907a"/>
<rect x="371.83" y="180.44" width="7.95" height="10.66" fill="#f4907a"/>
<rect x="379.18" y="180.44" width="7.95" height="10.66" fill="#f4907a"/>
<rect x="386.52" y="180.44" width="7.95" height="10.66" fill="#f4907a"/>
<rect x="393.87" y="180.44" width="7.95" height="10.66" fill="#f27862"/>
<rect x="401.22" y="180.44" width="7.95" height="10.66" fill="#f6b8a8"/>
<rect x="408.57" y="180.44" width="7.95" height="10.66" fill="#f4a08a"/>
<rect x="415.92" y="180.44" width="7.95" height="10.66" fill="#f6b8a8"/>
<rect x="423.26" y="180.44" width="7.95" height="10.66" fill="#f4a08a"/>
<rect x="430.61" y="180.44" width="7.95" height="10.66" fill="#f4a08a"/>
<rect x="437.96" y="180.44" width="7.95" height="10.66" fill="#f8c0b0"/>
<rect x="445.31" y="180.44" width="7.95" height="10.66" fill="#f8c0b0"/>
<rect x="452.66" y="180.44" width="7.35" height="10.66" fill="#f6b0a0"/>
<rect x="291.00" y="190.50" width="7.95" height="10.66" fill="#ccc0e4"/>
<rect x="298.35" y="190.50" width="7.95" height="10.66" fill="#d0c4e6"/>
<rect x="305.70" y="190.50" width="7.95" height="10.66" fill="#d0c4e6"/>
<rect x="313.04" y="190.50" width="7.95" height="10.66" fill="#d8cce8"/>
<rect x="320.39" y="190.50" width="7.95" height="10.66" fill="#d8cce8"/>
<rect x="327.74" y="190.50" width="7.95" height="10.66" fill="#ccc0e4"/>
<rect x="335.09" y="190.50" width="7.95" height="10.66" fill="#f8d0c4"/>
<rect x="342.44" y="190.50" width="7.95" height="10.66" fill="#f4e4e0"/>
<rect x="349.78" y="190.50" width="7.95" height="10.66" fill="#f6b0a0"/>
<rect x="357.13" y="190.50" width="7.95" height="10.66" fill="#f4907a"/>
<rect x="364.48" y="190.50" width="7.95" height="10.66" fill="#f4907a"/>
<rect x="371.83" y="190.50" width="7.95" height="10.66" fill="#f4907a"/>
<rect x="379.18" y="190.50" width="7.95" height="10.66" fill="#f4907a"/>
<rect x="386.52" y="190.50" width="7.95" height="10.66" fill="#f4907a"/>
<rect x="393.87" y="190.50" width="7.95" height="10.66" fill="#f27862"/>
<rect x="401.22" y="190.50" width="7.95" height="10.66" fill="#f6b0a0"/>
<rect x="408.57" y="190.50" width="7.95" height="10.66" fill="#f4a08a"/>
<rect x="415.92" y="190.50" width="7.95" height="10.66" fill="#f6b8a8"/>
<rect x="423.26" y="190.50" width="7.95" height="10.66" fill="#f4a08a"/>
<rect x="430.61" y="190.50" width="7.95" height="10.66" fill="#f4a08a"/>
<rect x="437.96" y="190.50" width="7.95" height="10.66" fill="#f8c8b8"/>
<rect x="445.31" y="190.50" width="7.95" height="10.66" fill="#f8c8b8"/>
<rect x="452.66" y="190.50" width="7.35" height="10.66" fill="#f6b0a0"/>
<rect x="291.00" y="200.56" width="7.95" height="10.66" fill="#c0b0dc"/>
<rect x="298.35" y="200.56" width="7.95" height="10.66" fill="#a090cc"/>
<rect x="305.70" y="200.56" width="7.95" height="10.66" fill="#b8a8d8"/>
<rect x="313.04" y="200.56" width="7.95" height="10.66" fill="#a898d0"/>
<rect x="320.39" y="200.56" width="7.95" height="10.66" fill="#a898d0"/>
<rect x="327.74" y="200.56" width="7.95" height="10.66" fill="#9888c8"/>
<rect x="335.09" y="200.56" width="7.95" height="10.66" fill="#dcd8f0"/>
<rect x="342.44" y="200.56" width="7.95" height="10.66" fill="#e4e0f0"/>
<rect x="349.78" y="200.56" width="7.95" height="10.66" fill="#f8d0c4"/>
<rect x="357.13" y="200.56" width="7.95" height="10.66" fill="#f6b0a0"/>
<rect x="364.48" y="200.56" width="7.95" height="10.66" fill="#f6b0a0"/>
<rect x="371.83" y="200.56" width="7.95" height="10.66" fill="#f4907a"/>
<rect x="379.18" y="200.56" width="7.95" height="10.66" fill="#f4907a"/>
<rect x="386.52" y="200.56" width="7.95" height="10.66" fill="#f4907a"/>
<rect x="393.87" y="200.56" width="7.95" height="10.66" fill="#f27058"/>
<rect x="401.22" y="200.56" width="7.95" height="10.66" fill="#f6b0a0"/>
<rect x="408.57" y="200.56" width="7.95" height="10.66" fill="#f6a890"/>
<rect x="415.92" y="200.56" width="7.95" height="10.66" fill="#f6b8a8"/>
<rect x="423.26" y="200.56" width="7.95" height="10.66" fill="#f4907a"/>
<rect x="430.61" y="200.56" width="7.95" height="10.66" fill="#f4907a"/>
<rect x="437.96" y="200.56" width="7.95" height="10.66" fill="#f6b0a0"/>
<rect x="445.31" y="200.56" width="7.95" height="10.66" fill="#f6b8a8"/>
<rect x="452.66" y="200.56" width="7.35" height="10.66" fill="#f6a890"/>
<rect x="291.00" y="210.62" width="7.95" height="10.66" fill="#c4b8e0"/>
<rect x="298.35" y="210.62" width="7.95" height="10.66" fill="#c0b4de"/>
<rect x="305.70" y="210.62" width="7.95" height="10.66" fill="#ccc0e4"/>
<rect x="313.04" y="210.62" width="7.95" height="10.66" fill="#ccc0e4"/>
<rect x="320.39" y="210.62" width="7.95" height="10.66" fill="#c4b8e0"/>
<rect x="327.74" y="210.62" width="7.95" height="10.66" fill="#bcb0dc"/>
<rect x="335.09" y="210.62" width="7.95" height="10.66" fill="#ecebf4"/>
<rect x="342.44" y="210.62" width="7.95" height="10.66" fill="#dcd8f0"/>
<rect x="349.78" y="210.62" width="7.95" height="10.66" fill="#f8d0c4"/>
<rect x="357.13" y="210.62" width="7.95" height="10.66" fill="#f6b8a8"/>
<rect x="364.48" y="210.62" width="7.95" height="10.66" fill="#f6b8a8"/>
<rect x="371.83" y="210.62" width="7.95" height="10.66" fill="#f4a08a"/>
<rect x="379.18" y="210.62" width="7.95" height="10.66" fill="#f6a890"/>
<rect x="386.52" y="210.62" width="7.95" height="10.66" fill="#f6a890"/>
<rect x="393.87" y="210.62" width="7.95" height="10.66" fill="#f27862"/>
<rect x="401.22" y="210.62" width="7.95" height="10.66" fill="#f6b0a0"/>
<rect x="408.57" y="210.62" width="7.95" height="10.66" fill="#f6b0a0"/>
<rect x="415.92" y="210.62" width="7.95" height="10.66" fill="#f6b0a0"/>
<rect x="423.26" y="210.62" width="7.95" height="10.66" fill="#f6a890"/>
<rect x="430.61" y="210.62" width="7.95" height="10.66" fill="#f6a890"/>
<rect x="437.96" y="210.62" width="7.95" height="10.66" fill="#f8c0b0"/>
<rect x="445.31" y="210.62" width="7.95" height="10.66" fill="#f8c8b8"/>
<rect x="452.66" y="210.62" width="7.35" height="10.66" fill="#f6b0a0"/>
<rect x="291.00" y="220.68" width="7.95" height="10.66" fill="#7868b8"/>
<rect x="298.35" y="220.68" width="7.95" height="10.66" fill="#4048a8"/>
<rect x="305.70" y="220.68" width="7.95" height="10.66" fill="#7060b4"/>
<rect x="313.04" y="220.68" width="7.95" height="10.66" fill="#7060b4"/>
<rect x="320.39" y="220.68" width="7.95" height="10.66" fill="#8878c0"/>
<rect x="327.74" y="220.68" width="7.95" height="10.66" fill="#4048a8"/>
<rect x="335.09" y="220.68" width="7.95" height="10.66" fill="#7868b8"/>
<rect x="342.44" y="220.68" width="7.95" height="10.66" fill="#8070bc"/>
<rect x="349.78" y="220.68" width="7.95" height="10.66" fill="#b4a8d6"/>
<rect x="357.13" y="220.68" width="7.95" height="10.66" fill="#e0dcf0"/>
<rect x="364.48" y="220.68" width="7.95" height="10.66" fill="#d0c8e6"/>
<rect x="371.83" y="220.68" width="7.95" height="10.66" fill="#f4e0d8"/>
<rect x="379.18" y="220.68" width="7.95" height="10.66" fill="#eceaf4"/>
<rect x="386.52" y="220.68" width="7.95" height="10.66" fill="#e8e6f4"/>
<rect x="393.87" y="220.68" width="7.95" height="10.66" fill="#f8c0b0"/>
<rect x="401.22" y="220.68" width="7.95" height="10.66" fill="#f0ecf0"/>
<rect x="408.57" y="220.68" width="7.95" height="10.66" fill="#e4e0f2"/>
<rect x="415.92" y="220.68" width="7.95" height="10.66" fill="#ececf4"/>
<rect x="423.26" y="220.68" width="7.95" height="10.66" fill="#f4ecea"/>
<rect x="430.61" y="220.68" width="7.95" height="10.66" fill="#f4ecea"/>
<rect x="437.96" y="220.68" width="7.95" height="10.66" fill="#e8e4f2"/>
<rect x="445.31" y="220.68" width="7.95" height="10.66" fill="#e8e4f2"/>
<rect x="452.66" y="220.68" width="7.35" height="10.66" fill="#ececf4"/>
<rect x="291.00" y="230.74" width="7.95" height="10.06" fill="#4850a8"/>
<rect x="298.35" y="230.74" width="7.95" height="10.06" fill="#3c48a8"/>
<rect x="305.70" y="230.74" width="7.95" height="10.06" fill="#3c48a8"/>
<rect x="313.04" y="230.74" width="7.95" height="10.06" fill="#3c48a8"/>
<rect x="320.39" y="230.74" width="7.95" height="10.06" fill="#4850a8"/>
<rect x="327.74" y="230.74" width="7.95" height="10.06" fill="#3c48a8"/>
<rect x="335.09" y="230.74" width="7.95" height="10.06" fill="#6050ac"/>
<rect x="342.44" y="230.74" width="7.95" height="10.06" fill="#6050ac"/>
<rect x="349.78" y="230.74" width="7.95" height="10.06" fill="#6050ac"/>
<rect x="357.13" y="230.74" width="7.95" height="10.06" fill="#7060b4"/>
<rect x="364.48" y="230.74" width="7.95" height="10.06" fill="#3c48a8"/>
<rect x="371.83" y="230.74" width="7.95" height="10.06" fill="#6858b0"/>
<rect x="379.18" y="230.74" width="7.95" height="10.06" fill="#6a5cb2"/>
<rect x="386.52" y="230.74" width="7.95" height="10.06" fill="#6a5cb2"/>
<rect x="393.87" y="230.74" width="7.95" height="10.06" fill="#9888c8"/>
<rect x="401.22" y="230.74" width="7.95" height="10.06" fill="#6a5cb2"/>
<rect x="408.57" y="230.74" width="7.95" height="10.06" fill="#5a50ac"/>
<rect x="415.92" y="230.74" width="7.95" height="10.06" fill="#a898d0"/>
<rect x="423.26" y="230.74" width="7.95" height="10.06" fill="#3c4aa8"/>
<rect x="430.61" y="230.74" width="7.95" height="10.06" fill="#3c4aa8"/>
<rect x="437.96" y="230.74" width="7.95" height="10.06" fill="#6a5cb2"/>
<rect x="445.31" y="230.74" width="7.95" height="10.06" fill="#4a50aa"/>
<rect x="452.66" y="230.74" width="7.35" height="10.06" fill="#4a50aa"/>
</g>
<text x="213.7" y="46.75" font-size="7.6">p53</text>
<text x="213.7" y="56.89" font-size="7.6">EphA2-pS897</text>
<text x="213.7" y="67.03" font-size="7.6">SDHA</text>
<text x="213.7" y="77.17" font-size="7.6">p21</text>
<text x="213.7" y="87.31" font-size="7.6">Aurora A</text>
<text x="213.7" y="97.45" font-size="7.6">WEE1</text>
<text x="213.7" y="107.59" font-size="7.6">Cyclin B1</text>
<text x="213.7" y="117.73" font-size="7.6">CDK1-pT14</text>
<text x="213.7" y="127.87" font-size="7.6">FOXM1</text>
<text x="213.7" y="138.01" font-size="7.6">RRM2</text>
<text x="213.7" y="148.15" font-size="7.6">RAD51</text>
<text x="213.7" y="158.29" font-size="7.6">CHEK1</text>
<text x="213.7" y="168.43" font-size="7.6">PLK1</text>
<text x="213.7" y="178.57" font-size="7.6">MSH6</text>
<text x="213.7" y="188.71" font-size="7.6">eEF2K</text>
<text x="213.7" y="198.85" font-size="7.6">RAD17-pS645</text>
<text x="213.7" y="208.99" font-size="7.6">P90RSK-pT573</text>
<text x="213.7" y="219.13" font-size="7.6">CDC25C</text>
<text x="213.7" y="229.27" font-size="7.6">RB-pS807/811</text>
<text x="213.7" y="239.41" font-size="7.6">Aurora B</text>
<text x="462.7" y="46.20" font-size="7.6">CDKN1A</text>
<text x="462.7" y="56.30" font-size="7.6">TP53</text>
<text x="462.7" y="66.40" font-size="7.6">SDHA</text>
<text x="462.7" y="76.50" font-size="7.6">MSH6</text>
<text x="462.7" y="86.60" font-size="7.6">RPS6KA1</text>
<text x="462.7" y="96.70" font-size="7.6">RB1</text>
<text x="462.7" y="106.80" font-size="7.6">CCNB1</text>
<text x="462.7" y="116.90" font-size="7.6">RRM2</text>
<text x="462.7" y="127.00" font-size="7.6">WEE1</text>
<text x="462.7" y="137.10" font-size="7.6">RAD17</text>
<text x="462.7" y="147.20" font-size="7.6">EEF2K</text>
<text x="462.7" y="157.30" font-size="7.6">Aurora B</text>
<text x="462.7" y="167.40" font-size="7.6">FOXM1</text>
<text x="462.7" y="177.50" font-size="7.6">PLK1</text>
<text x="462.7" y="187.60" font-size="7.6">CHEK1</text>
<text x="462.7" y="197.70" font-size="7.6">RAD51</text>
<text x="462.7" y="207.80" font-size="7.6">CDK1</text>
<text x="462.7" y="217.90" font-size="7.6">Aurora A</text>
<text x="462.7" y="228.00" font-size="7.6">CDC25C</text>
<text x="462.7" y="238.10" font-size="7.6">EPHA2</text>
<text x="68.5" y="17.8" font-size="9" text-anchor="middle">TC389</text>
<text x="164.8" y="17.8" font-size="9" text-anchor="middle">TC929</text>
<rect x="23" y="20.8" width="91" height="1.1" fill="#444"/>
<rect x="119" y="20.8" width="91.4" height="1.1" fill="#444"/>
<rect x="23.00" y="34.2" width="30.40" height="3.2" fill="#e8141c"/>
<text x="37.90" y="32" font-size="7.75" text-anchor="middle">Control</text>
<rect x="53.40" y="34.2" width="31.60" height="3.2" fill="#111111"/>
<text x="68.90" y="32" font-size="7.75" text-anchor="middle">Navt</text>
<rect x="85.00" y="34.2" width="31.50" height="3.2" fill="#3cb04a"/>
<text x="100.45" y="32" font-size="7.75" text-anchor="middle">Idasa</text>
<rect x="116.50" y="34.2" width="31.40" height="3.2" fill="#5cc8e0"/>
<text x="131.90" y="32" font-size="7.75" text-anchor="middle">Control</text>
<rect x="147.90" y="34.2" width="31.30" height="3.2" fill="#2c3c9c"/>
<text x="163.25" y="32" font-size="7.75" text-anchor="middle">Navt</text>
<rect x="179.20" y="34.2" width="31.40" height="3.2" fill="#b4449c"/>
<text x="194.60" y="32" font-size="7.75" text-anchor="middle">Idasa</text>
<text x="287.6" y="23.6" font-size="8.85">mRNA changes in B cells after EBV infection</text>
<rect x="291.00" y="32.2" width="21.90" height="6.7" fill="#6a6fba"/>
<text x="300.30" y="37.9" font-size="7" font-weight="bold" text-anchor="middle" style="fill:#2a2a3a;stroke:#2a2a3a;stroke-width:0.1px">0</text>
<rect x="312.60" y="32.2" width="22.30" height="6.7" fill="#b8da98"/>
<text x="323.40" y="37.9" font-size="7" font-weight="bold" text-anchor="middle" style="fill:#2a2a3a;stroke:#2a2a3a;stroke-width:0.1px">1</text>
<rect x="334.60" y="32.2" width="22.20" height="6.7" fill="#e4a8d0"/>
<text x="345.35" y="37.9" font-size="7" font-weight="bold" text-anchor="middle" style="fill:#2a2a3a;stroke:#2a2a3a;stroke-width:0.1px">2</text>
<rect x="356.50" y="32.2" width="22.10" height="6.7" fill="#a8dcc8"/>
<text x="367.20" y="37.9" font-size="7" font-weight="bold" text-anchor="middle" style="fill:#2a2a3a;stroke:#2a2a3a;stroke-width:0.1px">3</text>
<rect x="378.30" y="32.2" width="22.30" height="6.7" fill="#fad498"/>
<text x="389.10" y="37.9" font-size="7" font-weight="bold" text-anchor="middle" style="fill:#2a2a3a;stroke:#2a2a3a;stroke-width:0.1px">4</text>
<rect x="400.30" y="32.2" width="22.50" height="6.7" fill="#80cccc"/>
<text x="411.20" y="37.9" font-size="7" font-weight="bold" text-anchor="middle" style="fill:#2a2a3a;stroke:#2a2a3a;stroke-width:0.1px">5</text>
<rect x="422.50" y="32.2" width="14.70" height="6.7" fill="#b0b0dc"/>
<text x="429.50" y="37.9" font-size="7" font-weight="bold" text-anchor="middle" style="fill:#2a2a3a;stroke:#2a2a3a;stroke-width:0.1px">8</text>
<rect x="436.90" y="32.2" width="23.10" height="6.7" fill="#f8c4cc"/>
<text x="448.25" y="37.9" font-size="7" font-weight="bold" text-anchor="middle" style="fill:#2a2a3a;stroke:#2a2a3a;stroke-width:0.1px">14</text>
<text x="462" y="38" font-size="7.6">Days</text>
<text x="7.0" y="15.6" font-size="10.8" font-weight="bold" style="stroke-width:0.3px">A</text>
<text x="277.7" y="15.6" font-size="10.8" font-weight="bold" style="stroke-width:0.3px">B</text>
<defs><linearGradient id="gA" x1="0" y1="0" x2="0" y2="1"><stop offset="0" stop-color="#e8161e"/><stop offset="0.25" stop-color="#f18a8e"/><stop offset="0.5" stop-color="#fdfbfd"/><stop offset="0.75" stop-color="#9193cf"/><stop offset="1" stop-color="#3a4ea4"/></linearGradient><linearGradient id="gB" x1="0" y1="0" x2="0" y2="1"><stop offset="0" stop-color="#ef5a44"/><stop offset="0.25" stop-color="#f5aa98"/><stop offset="0.39" stop-color="#f6e8e6"/><stop offset="0.5" stop-color="#dcd4ec"/><stop offset="0.62" stop-color="#b0a4d4"/><stop offset="0.74" stop-color="#8c7cc2"/><stop offset="0.76" stop-color="#6c5cb6"/><stop offset="0.87" stop-color="#5a4cac"/><stop offset="1" stop-color="#3a3ca0"/></linearGradient></defs>
<text x="258.8" y="116.5" font-size="6.9" font-weight="bold" style="stroke-width:0.22px">Log2</text>
<rect x="259.3" y="123.2" width="8.6" height="64.5" fill="url(#gA)"/>
<rect x="267.9" y="123.20" width="1.2" height="0.6" fill="#666"/>
<text x="270.30" y="125.90" font-size="6.8">1.0</text>
<rect x="267.9" y="139.25" width="1.2" height="0.6" fill="#666"/>
<text x="270.30" y="141.95" font-size="6.8">0.5</text>
<rect x="267.9" y="155.30" width="1.2" height="0.6" fill="#666"/>
<text x="270.30" y="158.00" font-size="6.8">0</text>
<rect x="267.9" y="171.35" width="1.2" height="0.6" fill="#666"/>
<text x="270.90" y="174.45" font-size="6.8">−0.5</text>
<rect x="267.9" y="187.40" width="1.2" height="0.6" fill="#666"/>
<text x="270.90" y="190.50" font-size="6.8">−1.0</text>
<text x="495.6" y="147" font-size="7" font-weight="bold" style="stroke-width:0.22px">Log2</text>
<rect x="496.3" y="153.1" width="7.5" height="63.2" fill="url(#gB)"/>
<rect x="496.3" y="153.90" width="7.5" height="0.6" fill="#fff" opacity="0.8"/>
<text x="506" y="156.50" font-size="6.4">12</text>
<rect x="496.3" y="169.10" width="7.5" height="0.6" fill="#fff" opacity="0.8"/>
<text x="506" y="171.70" font-size="6.4">10</text>
<rect x="496.3" y="184.30" width="7.5" height="0.6" fill="#fff" opacity="0.8"/>
<text x="506" y="186.90" font-size="6.4">8</text>
<rect x="496.3" y="199.50" width="7.5" height="0.6" fill="#fff" opacity="0.8"/>
<text x="506" y="202.10" font-size="6.4">6</text>
<rect x="496.3" y="214.70" width="7.5" height="0.6" fill="#fff" opacity="0.8"/>
<text x="506" y="217.30" font-size="6.4">4</text>
<g stroke="#6a6a6a" stroke-width="0.7" fill="none" stroke-linecap="square">
<line x1="7.40" y1="53.50" x2="7.40" y2="145.30"/>
<line x1="7.40" y1="53.50" x2="18.60" y2="53.50"/>
<line x1="18.60" y1="45.05" x2="18.60" y2="62.60"/>
<line x1="18.60" y1="45.05" x2="21.80" y2="45.05"/>
<line x1="18.60" y1="62.60" x2="19.10" y2="62.60"/>
<line x1="19.10" y1="55.16" x2="19.10" y2="70.30"/>
<line x1="19.10" y1="55.16" x2="21.80" y2="55.16"/>
<line x1="19.10" y1="70.30" x2="20.20" y2="70.30"/>
<line x1="20.20" y1="65.28" x2="20.20" y2="75.38"/>
<line x1="20.20" y1="65.28" x2="21.80" y2="65.28"/>
<line x1="20.20" y1="75.38" x2="21.80" y2="75.38"/>
<line x1="7.40" y1="145.30" x2="10.40" y2="145.30"/>
<line x1="10.40" y1="98.20" x2="10.40" y2="193.00"/>
<line x1="10.40" y1="98.20" x2="19.60" y2="98.20"/>
<line x1="19.60" y1="85.50" x2="19.60" y2="110.70"/>
<line x1="19.60" y1="85.50" x2="21.80" y2="85.50"/>
<line x1="19.60" y1="95.60" x2="21.80" y2="95.60"/>
<line x1="19.60" y1="110.70" x2="20.30" y2="110.70"/>
<line x1="20.30" y1="105.72" x2="20.30" y2="135.00"/>
<line x1="20.30" y1="105.72" x2="21.80" y2="105.72"/>
<line x1="20.30" y1="115.82" x2="21.80" y2="115.82"/>
<line x1="20.30" y1="135.00" x2="20.00" y2="135.00"/>
<line x1="20.00" y1="125.94" x2="20.00" y2="161.00"/>
<line x1="20.00" y1="125.94" x2="21.80" y2="125.94"/>
<line x1="20.00" y1="136.04" x2="21.80" y2="136.04"/>
<line x1="20.00" y1="146.16" x2="21.80" y2="146.16"/>
<line x1="20.00" y1="161.00" x2="20.80" y2="161.00"/>
<line x1="20.80" y1="156.26" x2="20.80" y2="166.38"/>
<line x1="20.80" y1="156.26" x2="21.80" y2="156.26"/>
<line x1="20.80" y1="166.38" x2="21.80" y2="166.38"/>
<line x1="10.40" y1="193.00" x2="16.20" y2="193.00"/>
<line x1="16.20" y1="181.60" x2="16.20" y2="204.80"/>
<line x1="16.20" y1="181.60" x2="19.60" y2="181.60"/>
<line x1="19.60" y1="176.48" x2="19.60" y2="186.59"/>
<line x1="19.60" y1="176.48" x2="21.80" y2="176.48"/>
<line x1="19.60" y1="186.59" x2="21.80" y2="186.59"/>
<line x1="16.20" y1="204.80" x2="19.00" y2="204.80"/>
<line x1="19.00" y1="196.70" x2="19.00" y2="223.40"/>
<line x1="19.00" y1="196.70" x2="21.80" y2="196.70"/>
<line x1="19.00" y1="206.81" x2="21.80" y2="206.81"/>
<line x1="19.00" y1="216.92" x2="21.80" y2="216.92"/>
<line x1="19.00" y1="223.40" x2="20.80" y2="223.40"/>
<line x1="20.80" y1="227.03" x2="20.80" y2="237.14"/>
<line x1="20.80" y1="227.03" x2="21.80" y2="227.03"/>
<line x1="20.80" y1="237.14" x2="21.80" y2="237.14"/>
</g>
<rect x="0.5" y="0.5" width="519" height="249" fill="none" stroke="#000" stroke-width="1"/>
</svg></body></html>
